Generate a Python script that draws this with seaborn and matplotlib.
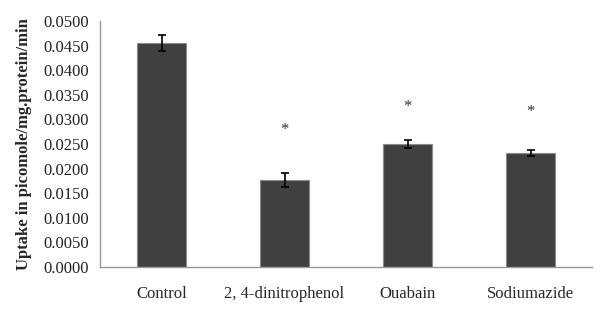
import numpy as np
import pandas as pd
import matplotlib.pyplot as plt
import seaborn as sns

# Values
treatments = ['Control', '2, 4-dinitrophenol', 'Ouabain', 'Sodiumazide']
uptake = [0.0455, 0.0177, 0.0250, 0.0232]
errors = [0.0016, 0.0014, 0.0008, 0.0006]
star_y = [np.nan, 0.0279, 0.0326, 0.0315]

data = pd.DataFrame({'Treatment': treatments, 'Uptake': uptake})

sns.set_style('white')
plt.rcParams['font.family'] = ['Liberation Serif', 'DejaVu Serif']

fig = plt.figure(figsize=(6, 3.09), dpi=100)
ax = fig.add_axes([0.1667, 0.136, 0.82, 0.796])

sns.barplot(data=data, x='Treatment', y='Uptake', color='#404040',
            width=0.4, edgecolor='#8a8a8a', linewidth=0.8, saturation=1, ax=ax)
ax.errorbar(range(len(treatments)), uptake, yerr=errors, fmt='none',
            ecolor='black', elinewidth=1.2, capsize=3, capthick=1.2)

for i, y in enumerate(star_y):
    if not np.isnan(y):
        ax.text(i, y, '*', ha='center', va='center', fontsize=12, color='#333333')

ax.set_xlim(-0.5, 3.5)
ax.set_ylim(0, 0.05)
ax.set_yticks(np.arange(0, 0.0501, 0.005))
ax.set_yticklabels([f'{v:.4f}' for v in np.arange(0, 0.0501, 0.005)])
ax.set_xticks([0.5, 1.5, 2.5, 3.5], minor=True)
ax.tick_params(axis='x', which='major', length=0, pad=14, labelsize=12)
ax.tick_params(axis='x', which='minor', length=4, color='#999999', direction='out')
ax.tick_params(axis='y', length=5, color='#999999', direction='out', labelsize=12,
               labelcolor='#222222', pad=3)
ax.set_xlabel('')
ax.set_ylabel('Uptake in picomole/mg.protein/min', fontweight='bold', fontsize=12,
              labelpad=8)

for s in ['top', 'right']:
    ax.spines[s].set_visible(False)
for s in ['left', 'bottom']:
    ax.spines[s].set_color('#999999')
    ax.spines[s].set_linewidth(1)

fig.savefig('out.png', dpi=100)
